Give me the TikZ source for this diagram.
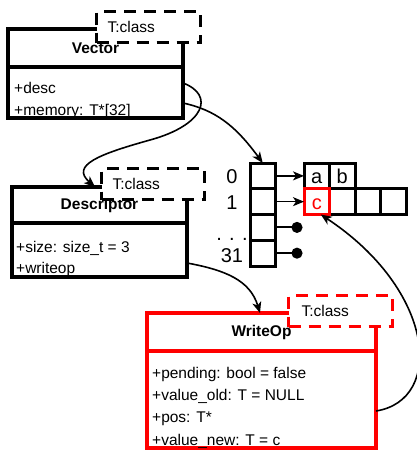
\documentclass[tikz,border=0pt]{standalone}
\usepackage{fontspec}
\setmainfont{Liberation Sans}
\usetikzlibrary{arrows.meta, positioning}

\begin{document}
\begin{tikzpicture}[x=1pt, y=-1pt,
        font=\fontsize{15.5}{18}\selectfont,
        umlhead/.style={draw, line width=3.2pt, outer sep=0, inner sep=0, minimum height=38, minimum width=175, font=\fontsize{15.5}{18}\selectfont\bfseries},
        umlbody/.style={draw, line width=3.2pt, outer sep=0, inner sep=0, minimum width=175},
        tmpl/.style={draw, fill=white, line width=3.2pt, dash pattern=on 12pt off 8pt, minimum height=31, text width=82, inner xsep=11, align=left, anchor=north west},
        attr/.style={anchor=base west, inner sep=0},
        cell/.style={draw, line width=3pt, outer sep=0, inner sep=0, minimum width=25.5, minimum height=25.75, text height=17, text depth=2, font=\fontsize{20}{24}\selectfont},
        idx/.style={inner sep=0, anchor=base, font=\fontsize{20}{24}\selectfont},
        link/.style={line width=1.6pt, -{Stealth[length=11pt, width=9pt, inset=3pt]}},
        pin/.style={line width=2pt, -{Circle[length=11pt]}}
    ]
        \useasboundingbox (0,0) rectangle (417,450);

        % Vector class
        \node[umlhead, anchor=north west] (vector) at (8,29) {Vector};
        \node[umlbody, minimum height=51, below=0pt of vector] (vbody) {};
        \node[tmpl] (vtmpl) at (95,10) {T:class};
        \node[attr] (vdesc) at (14,93) {+desc};
        \node[attr] (vmem) at (14,115) {+memory: T*[32]};

        % Descriptor class
        \node[umlhead, minimum height=36, anchor=north west] (descriptor) at (12,187) {Descriptor};
        \node[umlbody, minimum height=54, below=0pt of descriptor] (dbody) {};
        \node[tmpl, text width=81] (dtmpl) at (100,167) {T:class};
        \node[attr] (dsize) at (16,252) {+size: size\_t = 3};
        \node[attr] (dwrite) at (16,273) {+writeop};

        % WriteOp class (red)
        \node[umlhead, draw=red, minimum width=229, anchor=north west] (writeop) at (147,313) {WriteOp};
        \node[umlbody, draw=red, minimum width=229, minimum height=97, below=0pt of writeop] (wbody) {};
        \node[tmpl, draw=red, inner xsep=13, text width=78] (wtmpl) at (287,294) {T:class};
        \node[attr] (wpend) at (152,378) {+pending: bool = false};
        \node[attr] (wold) at (152,400) {+value\_old: T = NULL};
        \node[attr] (wpos) at (152,422) {+pos: T*};
        \node[attr] (wnew) at (152,445) {+value\_new: T = c};

        % Pointer column 0..31
        \foreach \i in {0,...,3}
            \node[cell] (col\i) at (262.75,{175.9+25.75*\i}) {};
        \node[idx] (lbl0) at (232,183) {0};
        \node[idx] (lbl1) at (232,209) {1};
        \node[idx] (dots) at (232,240) {. . .};
        \node[idx] (lbl31) at (232,262) {31};

        % Memory blocks
        \node[cell] (ca) at (316.75,175.9) {a};
        \node[cell] (cb) at (342.25,175.9) {b};
        \foreach \k/\x in {d/342.25, e/367.75, f/393.25}
            \node[cell] (c\k) at (\x,201.65) {};
        \node[cell, draw=red, text=red] (cc) at (316.75,201.65) {c};

        % Column pointers
        \draw[link] (col0.east) -- (ca.west);
        \draw[link] (col1.east) -- (cc.west);
        \draw[pin] (col2.east) -- ([xshift=27]col2.east);
        \draw[pin] (col3.east) -- ([xshift=27]col3.east);

        % Class connectors
        \draw[link] ([yshift=-16]vbody.north east) .. controls (215,95) and (205,125) .. (150,140)
            .. controls (100,154) and (70,165) .. ([xshift=83]descriptor.north west);
        \draw[link] ([yshift=-36]vbody.north east) .. controls (215,110) and (235,125) .. (col0.north);
        \draw[link] ([yshift=-40]dbody.north east) .. controls (225,270) and (250,280) .. ([xshift=113]writeop.north west);
        \draw[link] ([yshift=-60]wbody.north east) .. controls (445,400) and (435,290) .. ([xshift=4]cc.south);

    \end{tikzpicture}
\end{document}
